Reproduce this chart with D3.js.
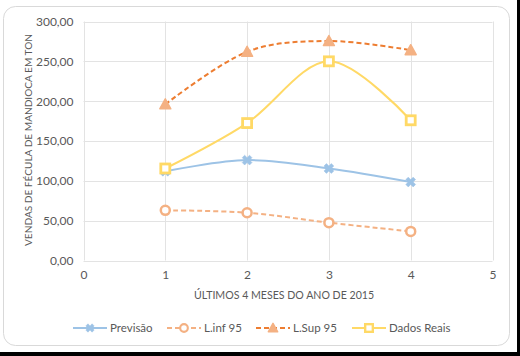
<!DOCTYPE html>
<html><head><meta charset="utf-8">
<script src="https://cdn.jsdelivr.net/npm/d3@7"></script>
<style>html,body{margin:0;padding:0;background:#fff;}svg{display:block;}</style>
</head><body>
<script>
const months = [1, 2, 3, 4];
const previsao = [112, 126, 115.5, 98.5];
const linf = [63, 60, 47.5, 36.5];
const lsup = [196, 262, 275.5, 264];
const reais = [115.5, 172.5, 250, 176];
const xTicks = [0, 1, 2, 3, 4, 5];
const yTicks = [0, 50, 100, 150, 200, 250, 300];
const seriesNames = ["Previsão", "L.inf 95", "L.Sup 95", "Dados Reais"];

const W = 520, H = 356;
const font = "Lato, 'Open Sans', sans-serif";
const txt = "#595959";
const svg = d3.select("body").append("svg").attr("width", W).attr("height", H);

svg.append("rect").attr("x", 3.5).attr("y", 6.5).attr("width", 506).attr("height", 339)
  .attr("rx", 12).attr("fill", "#fff").attr("stroke", "#d9d9d9").attr("stroke-width", 1);
svg.append("rect").attr("x", 0).attr("y", 352).attr("width", 520).attr("height", 4).attr("fill", "#000");
svg.append("rect").attr("x", 517).attr("y", 0).attr("width", 3).attr("height", 356).attr("fill", "#000");

const x = d3.scaleLinear().domain([0, 5]).range([83.5, 492.5]);
const y = d3.scaleLinear().domain([0, 300]).range([260.5, 21.5]);

const g = svg.append("g");
g.selectAll(".hg").data(yTicks).join("line")
  .attr("x1", x(0)).attr("x2", x(5)).attr("y1", d => Math.round(y(d)) + 0.5).attr("y2", d => Math.round(y(d)) + 0.5)
  .attr("stroke", "#e3e3e3").attr("stroke-width", 1);
g.selectAll(".vg").data(xTicks).join("line")
  .attr("y1", y(0)).attr("y2", y(300)).attr("x1", d => Math.round(x(d)) + 0.5).attr("x2", d => Math.round(x(d)) + 0.5)
  .attr("stroke", "#e3e3e3").attr("stroke-width", 1);

const yAxis = d3.axisLeft(y).tickValues(yTicks).tickSize(0).tickPadding(10)
  .tickFormat(d => d3.format(".2f")(d).replace(".", ","));
const ya = svg.append("g").attr("transform", `translate(${x(0)},0)`).call(yAxis);
ya.select(".domain").remove();
ya.selectAll("text").attr("fill", txt).style("font-family", font).style("font-size", "12px");

const xAxis = d3.axisBottom(x).tickValues(xTicks).tickSize(0).tickPadding(10).tickFormat(d3.format("d"));
const xa = svg.append("g").attr("transform", `translate(0,${y(0)})`).call(xAxis);
xa.select(".domain").remove();
xa.selectAll("text").attr("fill", txt).style("font-family", font).style("font-size", "12px");

svg.append("text").attr("x", 284).attr("y", 299).attr("text-anchor", "middle")
  .attr("fill", txt).style("font-family", font).style("font-size", "10.6px")
  .text("ÚLTIMOS 4 MESES DO ANO DE 2015");
svg.append("text").attr("transform", "translate(32,140) rotate(-90)").attr("text-anchor", "middle")
  .attr("fill", txt).style("font-family", font).style("font-size", "10.1px")
  .text("VENDAS DE FÉCULA DE MANDIOCA EM TON");

const curve = d3.curveCardinal.tension(0);
const line = d3.line().x((d, i) => x(months[i])).y(d => y(d)).curve(curve);

const series = [
  {name: seriesNames[0], data: previsao, stroke: "#9dc3e6", dash: null, marker: "x", mfill: "#9dc3e6", mstroke: "#9dc3e6"},
  {name: seriesNames[1], data: linf, stroke: "#f4b183", dash: "5,3", marker: "circle", mfill: "#fff", mstroke: "#f4b183"},
  {name: seriesNames[2], data: lsup, stroke: "#ed7d31", dash: "5,3", marker: "tri", mfill: "#f4b183", mstroke: "#f4b183"},
  {name: seriesNames[3], data: reais, stroke: "#ffd966", dash: null, marker: "square", mfill: "#fff", mstroke: "#ffd966"}
];

function drawMarker(sel, s, cx, cy, k) {
  k = k || 1;
  if (s.marker === "x") {
    const p = sel.append("g").attr("transform", `translate(${cx},${cy})`);
    p.append("path").attr("d", d3.symbol(d3.symbolCross, 60 * k * k)()).attr("transform", "rotate(45)")
      .attr("fill", s.mfill).attr("stroke", s.mstroke).attr("stroke-width", 0.5);
  } else if (s.marker === "circle") {
    sel.append("circle").attr("cx", cx).attr("cy", cy).attr("r", 4.5 * k)
      .attr("fill", s.mfill).attr("stroke", s.mstroke).attr("stroke-width", 2.5 * k);
  } else if (s.marker === "tri") {
    const r = 5.5 * k;
    sel.append("path").attr("d", `M${cx},${cy - r}L${cx + r},${cy + r * 0.82}L${cx - r},${cy + r * 0.82}Z`)
      .attr("fill", s.mfill).attr("stroke", s.mstroke).attr("stroke-width", 1.5).attr("stroke-linejoin", "round");
  } else if (s.marker === "square") {
    const h = 4.5 * k;
    sel.append("rect").attr("x", cx - h).attr("y", cy - h).attr("width", 2 * h).attr("height", 2 * h)
      .attr("fill", s.mfill).attr("stroke", s.mstroke).attr("stroke-width", 2.8 * k);
  }
}

series.forEach(s => {
  svg.append("path").datum(s.data).attr("d", line).attr("fill", "none")
    .attr("stroke", s.stroke).attr("stroke-width", 2).attr("stroke-dasharray", s.dash);
  s.data.forEach((v, i) => drawMarker(svg, s, x(months[i]), y(v)));
});

const legX = [73, 167, 256, 352];
const ly = 328;
series.forEach((s, i) => {
  const lx = legX[i];
  svg.append("line").attr("x1", lx).attr("x2", lx + 34).attr("y1", ly).attr("y2", ly)
    .attr("stroke", s.stroke).attr("stroke-width", 2).attr("stroke-dasharray", s.dash);
  drawMarker(svg, s, lx + 17, ly, 0.85);
  svg.append("text").attr("x", lx + 37).attr("y", ly + 4).attr("fill", txt)
    .style("font-family", font).style("font-size", "11.5px").text(s.name);
});
</script>
</body></html>
